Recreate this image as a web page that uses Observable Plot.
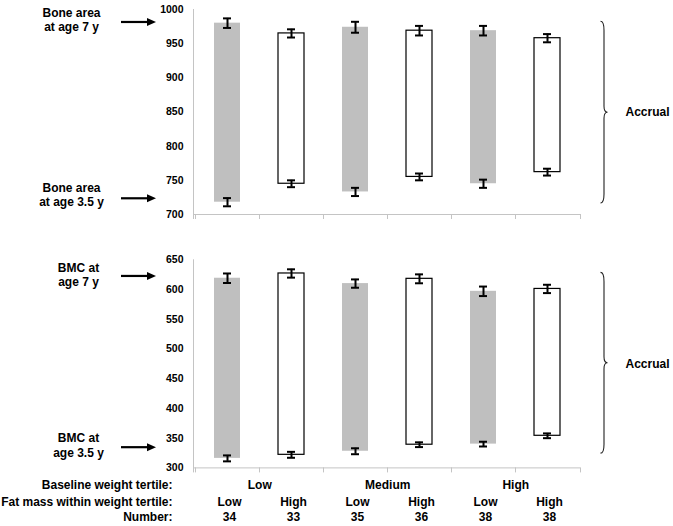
<!DOCTYPE html>
<html><head><meta charset="utf-8">
<script src="https://cdn.jsdelivr.net/npm/d3@7"></script>
<script src="https://cdn.jsdelivr.net/npm/@observablehq/plot@0.6"></script>
<style>body{margin:0;background:#fff}svg{display:block}</style>
</head><body><div id="chart"></div>
<script>
const groups = ["Low-Low","Low-High","Medium-Low","Medium-High","High-Low","High-High"];
const weightTertiles = ["Low","Medium","High"];
const fatLabels = ["Low","High","Low","High","Low","High"];
const numbers = [34,33,35,36,38,38];
const fatIsLow = [true,false,true,false,true,false];

const areaAge7 = [980,965,974,969,969,958];
const areaAge35 = [718,745,733,755,745,762];
const areaErr7 = [7,6,8,7,7,6];
const areaErr35 = [6,5,6,5,6,5];

const bmcAge7 = [619,627,610,618,597,601];
const bmcAge35 = [316,322,328,339,340,354];
const bmcErr7 = [8,7,7,7.5,8,7];
const bmcErr35 = [5,5,5,4,4,4];

const areaTicks = [700,750,800,850,900,950,1000];
const bmcTicks = [300,350,400,450,500,550,600,650];

const areaNotes = ["Bone area\nat age 7 y","Bone area\nat age 3.5 y"];
const bmcNotes = ["BMC at\nage 7 y","BMC at\nage 3.5 y"];
const rowLabels = ["Baseline weight tertile:","Fat mass within weight tertile:","Number:"];

const FONT = "Liberation Sans, Arial, sans-serif";
const TXT = {fontFamily: FONT, fontWeight: "bold", fontSize: 12, fill: "black"};

function rows(v7, v35, e7, e35) {
  return groups.map((g, i) => ({g, low: fatIsLow[i], v7: v7[i], v35: v35[i], e7: e7[i], e35: e35[i]}));
}

function decor(o) {
  return (index, scales, values, dims, context) => {
    const doc = (context && context.document) || document;
    const g = d3.select(doc.createElementNS("http://www.w3.org/2000/svg", "g"));
    const left = dims.marginLeft, right = dims.width - dims.marginRight;
    const topY = dims.marginTop, bottomY = dims.height - dims.marginBottom;
    const grey = "#c4c4c4";
    g.append("line").attr("x1", left + 0.5).attr("x2", left + 0.5).attr("y1", topY).attr("y2", bottomY + 5).attr("stroke", grey);
    g.append("line").attr("x1", left).attr("x2", right).attr("y1", bottomY + 0.5).attr("y2", bottomY + 0.5).attr("stroke", grey);
    const bx = groups.map(c => scales.x(c)).concat([right]);
    bx.forEach(x => g.append("line").attr("x1", Math.round(x) + 0.5).attr("x2", Math.round(x) + 0.5).attr("y1", bottomY).attr("y2", bottomY + 5).attr("stroke", grey));
    o.arrows.forEach(v => {
      const y = scales.y(v);
      g.append("line").attr("x1", left - 72).attr("x2", left - 44).attr("y1", y).attr("y2", y).attr("stroke", "black").attr("stroke-width", 2.2);
      g.append("path").attr("d", `M${left - 37},${y} L${left - 46},${y - 4} L${left - 46},${y + 4} Z`).attr("fill", "black");
    });
    const y1 = scales.y(o.brace[0]), y2 = scales.y(o.brace[1]), ym = (y1 + y2) / 2;
    const x0 = right + 20.5, x1 = right + 24, xp = right + 27.5;
    g.append("path").attr("fill", "none").attr("stroke", "#222").attr("stroke-width", 1.1)
      .attr("d", `M${x0},${y1} Q${x1},${y1} ${x1},${y1 + 9} L${x1},${ym - 6} Q${x1},${ym} ${xp},${ym} Q${x1},${ym} ${x1},${ym + 6} L${x1},${y2 - 9} Q${x1},${y2} ${x0},${y2}`);
    return g.node();
  };
}

function panel(data, cfg) {
  const marks = [
    decor({arrows: cfg.arrows, brace: cfg.brace}),
    Plot.barY(data.filter(d => d.low), {x: "g", y1: "v35", y2: "v7", fill: "#bfbfbf", insetLeft: 19, insetRight: 19}),
    Plot.barY(data.filter(d => !d.low), {x: "g", y1: "v35", y2: "v7", fill: "white", stroke: "black", strokeWidth: 1.2, insetLeft: 19, insetRight: 19}),
    Plot.ruleX(data, {x: "g", y1: d => d.v7 - d.e7, y2: d => d.v7 + d.e7, stroke: "black", strokeWidth: 2}),
    Plot.ruleX(data, {x: "g", y1: d => d.v35 - d.e35, y2: d => d.v35 + d.e35, stroke: "black", strokeWidth: 2}),
    ...[d => d.v7 - d.e7, d => d.v7 + d.e7, d => d.v35 - d.e35, d => d.v35 + d.e35].map(f =>
      Plot.tickY(data, {x: "g", y: f, stroke: "black", strokeWidth: 2, insetLeft: 28, insetRight: 28})),
    Plot.text(cfg.notes, {y: (d, i) => cfg.noteY[i], text: d => d, frameAnchor: "left", dx: cfg.noteDx, textAnchor: "middle", lineHeight: 1.17, ...TXT}),
    Plot.text(["Accrual"], {frameAnchor: "right", dx: 45, textAnchor: "start", ...TXT}),
    ...(cfg.extra || [])
  ];
  return Plot.plot({
    width: 673, height: cfg.height,
    marginLeft: 193, marginRight: 93, marginTop: cfg.marginTop, marginBottom: cfg.marginBottom,
    style: {fontFamily: FONT, fontWeight: "bold", fontSize: "10.5px", background: "white", color: "black"},
    x: {type: "band", domain: groups, padding: 0, axis: null},
    y: {domain: cfg.domain, ticks: cfg.ticks, tickSize: 0, tickPadding: 10, label: null, tickFormat: d => String(d)},
    marks
  });
}

const areaData = rows(areaAge7, areaAge35, areaErr7, areaErr35);
const bmcData = rows(bmcAge7, bmcAge35, bmcErr7, bmcErr35);

const rowDy = [17.6, 34.3, 49.6];
const ROW = {frameAnchor: "bottom", lineAnchor: "middle", ...TXT};
const extraMarks = [
  ...rowLabels.map((t, i) => Plot.text([t], {...ROW, frameAnchor: "bottom-left", dx: -21, dy: rowDy[i], textAnchor: "end"})),
  Plot.text(weightTertiles, {x: (d, i) => groups[i * 2], text: d => d, dx: 32.25, dy: rowDy[0], ...ROW}),
  Plot.text(fatLabels, {x: (d, i) => groups[i], text: d => d, dx: 2, dy: rowDy[1], ...ROW}),
  Plot.text(numbers, {x: (d, i) => groups[i], text: d => String(d), dx: 2, dy: rowDy[2], ...ROW})
];

const areaPlot = panel(areaData, {
  height: 240, marginTop: 9, marginBottom: 26, domain: [700, 1000], ticks: areaTicks,
  arrows: [981, 723], brace: [982, 716], notes: areaNotes, noteY: [985, 729], noteDx: -122
});
const bmcPlot = panel(bmcData, {
  height: 286, marginTop: 19.3, marginBottom: 58.6, domain: [300, 650], ticks: bmcTicks,
  arrows: [622, 334], brace: [628, 324], notes: bmcNotes, noteY: [625, 338.5], noteDx: -115, extra: extraMarks
});
document.getElementById("chart").append(areaPlot, bmcPlot);
</script>
</body></html>
